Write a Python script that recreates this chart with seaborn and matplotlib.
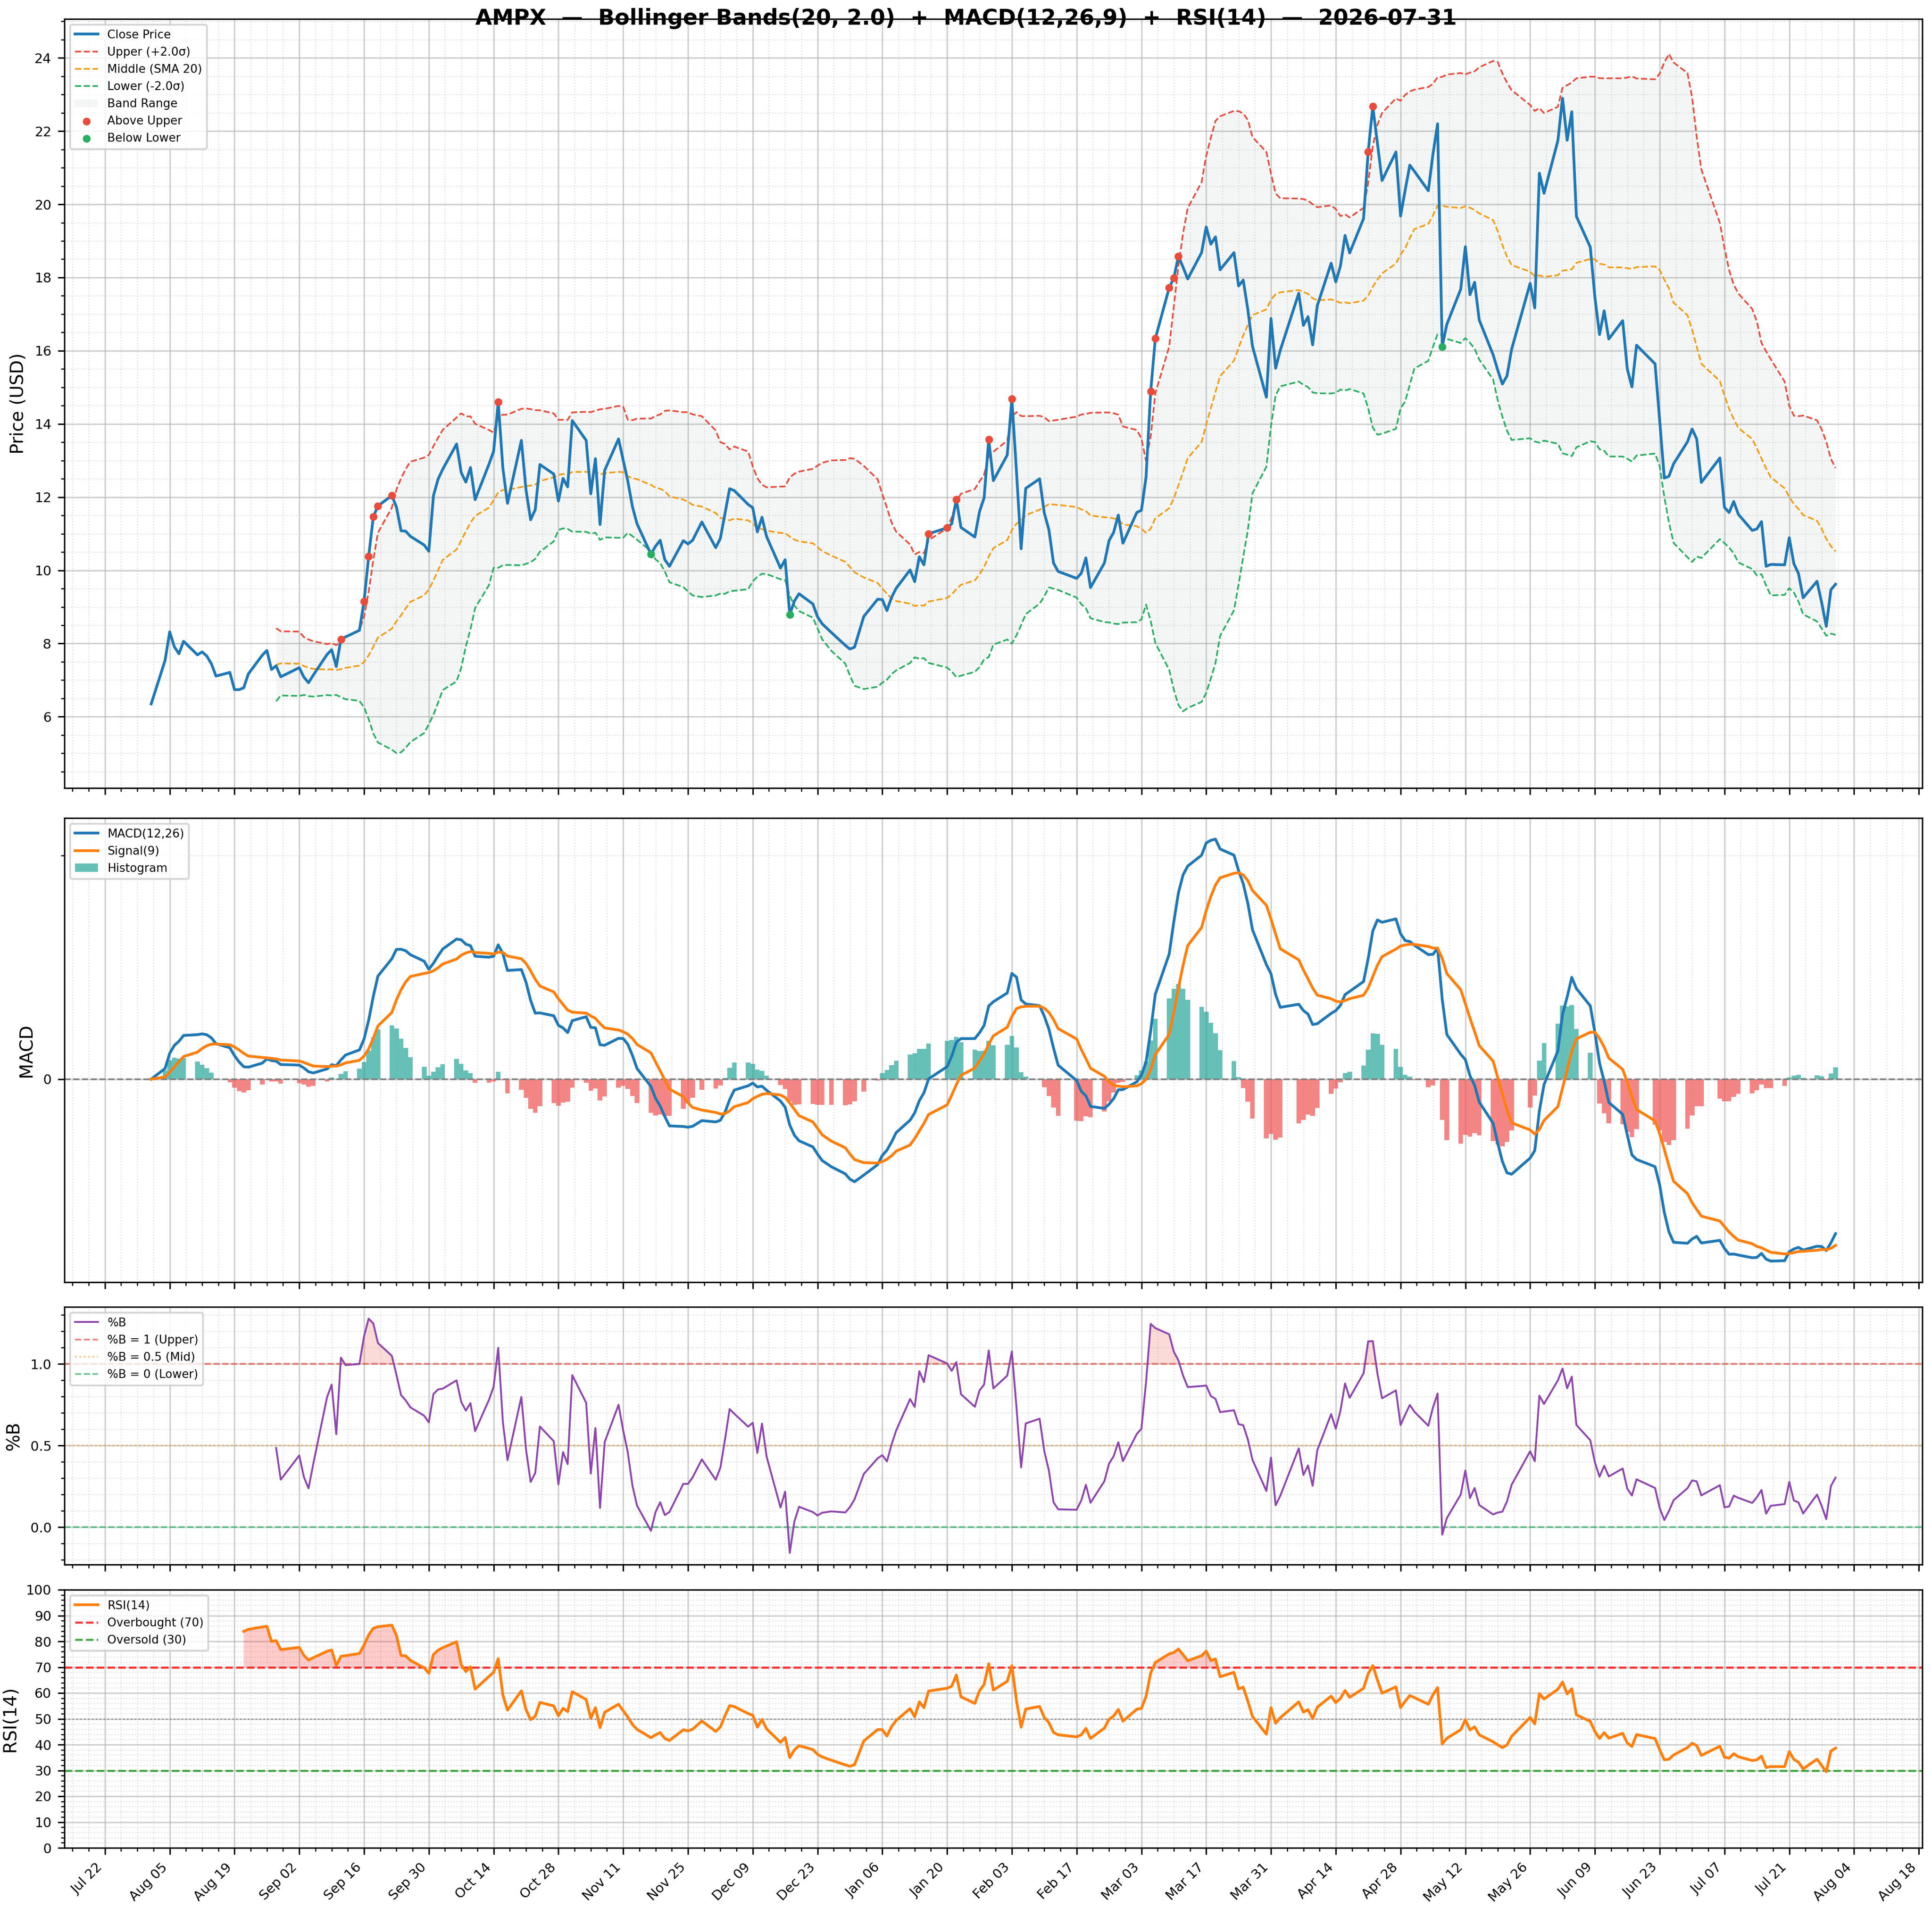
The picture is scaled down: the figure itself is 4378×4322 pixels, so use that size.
import numpy as np
import pandas as pd
import matplotlib
matplotlib.use("Agg")
import matplotlib.pyplot as plt
import matplotlib.dates as mdates
from matplotlib.ticker import AutoMinorLocator, FixedLocator, MultipleLocator
import seaborn as sns

# ---------------- data ----------------
ticker = "AMPX"
start_date = "2025-08-01"
end_date = "2026-07-31"
market_holidays = ["2025-09-01", "2025-11-27", "2025-12-25", "2026-01-01",
                   "2026-01-19", "2026-02-16", "2026-04-03", "2026-05-25",
                   "2026-06-19", "2026-07-03"]

close_aug = [6.35, 7.54, 8.32, 7.91, 7.72, 8.06, 7.69, 7.77, 7.66, 7.45, 7.11,
             7.21, 6.74, 6.74, 6.79, 7.17, 7.68, 7.81, 7.29, 7.39, 7.09]
close_sep = [7.34, 7.08, 6.93, 7.13, 7.70, 7.83, 7.37, 8.12, 8.18, 8.36, 9.15,
             10.38, 11.46, 11.76, 12.04, 11.73, 11.08, 11.07, 10.93, 10.69, 10.52]
close_oct = [12.04, 12.49, 12.76, 13.45, 12.67, 12.41, 12.81, 11.93, 12.90, 13.25,
             14.60, 12.79, 11.83, 13.55, 12.20, 11.38, 11.66, 12.89, 12.63, 11.89,
             12.51, 12.28, 14.09]
close_nov = [13.55, 12.09, 13.05, 11.25, 12.73, 13.59, 13.01, 12.44, 11.74, 11.27,
             10.44, 10.66, 10.82, 10.29, 10.11, 10.81, 10.72, 10.82, 11.32]
close_dec = [10.62, 10.87, 11.55, 12.23, 12.18, 11.80, 11.71, 11.05, 11.45, 10.92,
             10.06, 10.29, 8.79, 9.16, 9.36, 9.08, 8.73, 8.54, 8.30, 7.95, 7.85, 7.90]
close_jan = [8.74, 9.21, 9.20, 8.90, 9.26, 9.51, 10.01, 9.69, 10.37, 10.15, 11.00,
             11.16, 11.27, 11.94, 11.17, 10.91, 11.60, 11.98, 13.58, 12.45]
close_feb = [13.15, 14.68, 12.69, 10.59, 12.24, 12.50, 11.57, 11.11, 10.20, 9.97,
             9.78, 9.92, 10.34, 9.53, 10.20, 10.81, 11.04, 11.51, 10.74]
close_mar = [11.58, 11.64, 12.55, 14.89, 16.33, 17.72, 17.99, 18.58, 18.28, 17.96,
             18.68, 19.38, 18.91, 19.11, 18.21, 18.68, 17.77, 17.93, 17.12, 16.12,
             14.73, 16.88]
close_apr = [15.52, 16.01, 17.57, 16.69, 16.93, 16.16, 17.23, 18.39, 17.88, 18.31,
             19.15, 18.67, 19.61, 21.43, 22.68, 21.67, 20.65, 21.43, 19.68, 20.39, 21.07]
close_may = [20.90, 20.37, 21.37, 22.20, 16.11, 16.72, 17.68, 18.84, 17.53, 17.87,
             16.84, 15.89, 15.47, 15.09, 15.31, 16.04, 17.84, 17.17, 20.85, 20.30]
close_jun = [21.74, 22.90, 21.75, 22.53, 19.67, 18.83, 17.46, 16.44, 17.09, 16.32,
             16.82, 15.50, 15.01, 16.15, 15.64, 14.09, 12.52, 12.57, 12.91, 13.51, 13.86]
close_jul = [13.59, 12.40, 13.07, 11.72, 11.58, 11.88, 11.53, 11.09, 11.13, 11.33,
             10.11, 10.16, 10.15, 10.89, 10.18, 9.91, 9.25, 9.70, 9.12, 8.47, 9.47, 9.62]

bb_window, bb_k = 20, 2.0
macd_fast, macd_slow, macd_sig = 12, 26, 9
rsi_period = 14

dates = pd.bdate_range(start_date, end_date, freq="C", holidays=market_holidays)
close_all = (close_aug + close_sep + close_oct + close_nov + close_dec + close_jan +
             close_feb + close_mar + close_apr + close_may + close_jun + close_jul)
s = pd.Series(close_all, index=dates, dtype=float)

# indicators derived from the close series
mid = s.rolling(bb_window).mean()
sd = s.rolling(bb_window).std()
upper = mid + bb_k * sd
lower = mid - bb_k * sd
pctb = (s - lower) / (upper - lower)

ema_f = s.ewm(span=macd_fast, adjust=False).mean()
ema_s = s.ewm(span=macd_slow, adjust=False).mean()
macd = ema_f - ema_s
signal = macd.ewm(span=macd_sig, adjust=False).mean()
hist = macd - signal

delta = s.diff()
gain = delta.clip(lower=0)
loss = -delta.clip(upper=0)
avg_g = gain.ewm(alpha=1 / rsi_period, adjust=False, min_periods=rsi_period).mean()
avg_l = loss.ewm(alpha=1 / rsi_period, adjust=False, min_periods=rsi_period).mean()
rsi = 100 - 100 / (1 + avg_g / avg_l)

above = s > upper
below = s < lower

# ---------------- figure ----------------
W, H, DPI = 4378, 4322, 300
fig = plt.figure(figsize=(W / DPI, H / DPI), dpi=DPI)
fig.patch.set_facecolor("white")

def rect(top, bottom, left=146, right=4356):
    return [left / W, 1 - bottom / H, (right - left) / W, (bottom - top) / H]

ax1 = fig.add_axes(rect(43, 1786))
ax2 = fig.add_axes(rect(1854, 2906), sharex=ax1)
ax3 = fig.add_axes(rect(2962, 3546), sharex=ax1)
ax4 = fig.add_axes(rect(3603, 4188), sharex=ax1)

TICK_FS = 7.3
LEG_FS = 6.3
LAB_FS = 9.7

C_UP, C_MID, C_LO = "#e74c3c", "#f39c12", "#27ae60"

# --- price panel ---
band = ax1.fill_between(dates, lower, upper, color="#95a5a6", alpha=0.1, lw=0, label="Band Range")
sns.lineplot(x=dates, y=s.values, ax=ax1, color="#1f77b4", lw=1.5, label="Close Price", zorder=3)
sns.lineplot(x=dates, y=upper.values, ax=ax1, color=C_UP, lw=0.9, linestyle="--", label="Upper (+2.0σ)")
sns.lineplot(x=dates, y=mid.values, ax=ax1, color=C_MID, lw=0.9, linestyle="--", label="Middle (SMA 20)")
sns.lineplot(x=dates, y=lower.values, ax=ax1, color=C_LO, lw=0.9, linestyle="--", label="Lower (-2.0σ)")
sns.scatterplot(x=dates[above.values], y=s[above].values, ax=ax1, color=C_UP, s=18,
                linewidth=0, zorder=5, label="Above Upper")
sns.scatterplot(x=dates[below.values], y=s[below].values, ax=ax1, color=C_LO, s=18,
                linewidth=0, zorder=5, label="Below Lower")
h, l = ax1.get_legend_handles_labels()
order = ["Close Price", "Upper (+2.0σ)", "Middle (SMA 20)", "Lower (-2.0σ)", "Band Range",
         "Above Upper", "Below Lower"]
hd = dict(zip(l, h))
ax1.legend([hd[k] for k in order], order, loc="upper left", fontsize=LEG_FS)
ax1.set_ylabel("Price (USD)", fontsize=LAB_FS)
ax1.yaxis.set_major_locator(MultipleLocator(2))

# --- MACD panel ---
bar_colors = np.where(hist.values >= 0, "#26a69a", "#ef5350")
ax2.bar(dates, hist.values, width=1.0, color=bar_colors, alpha=0.7, label="Histogram", zorder=2)
ax2.axhline(0, color="gray", ls="--", lw=0.9, zorder=2.5)
sns.lineplot(x=dates, y=macd.values, ax=ax2, color="#1f77b4", lw=1.5, label="MACD(12,26)", zorder=3)
sns.lineplot(x=dates, y=signal.values, ax=ax2, color="#ff7f0e", lw=1.5, label="Signal(9)", zorder=3)
h, l = ax2.get_legend_handles_labels()
hd = dict(zip(l, h))
order = ["MACD(12,26)", "Signal(9)", "Histogram"]
ax2.legend([hd[k] for k in order], order, loc="upper left", fontsize=LEG_FS)
ax2.set_ylabel("MACD", fontsize=LAB_FS)

# --- %B panel ---
sns.lineplot(x=dates, y=pctb.values, ax=ax3, color="#8e44ad", lw=1.0, label="%B", zorder=3)
ax3.axhline(1.0, color=C_UP, ls="--", lw=0.9, alpha=0.7, label="%B = 1 (Upper)")
ax3.axhline(0.5, color=C_MID, ls=":", lw=0.9, alpha=0.6, label="%B = 0.5 (Mid)")
ax3.axhline(0.0, color=C_LO, ls="--", lw=0.9, alpha=0.7, label="%B = 0 (Lower)")
pb = pctb.values
ax3.fill_between(dates, pb, 1.0, where=pb > 1.0, interpolate=True, color=C_UP, alpha=0.2, lw=0)
ax3.fill_between(dates, pb, 0.0, where=pb < 0.0, interpolate=True, color=C_LO, alpha=0.2, lw=0)
h, l = ax3.get_legend_handles_labels()
hd = dict(zip(l, h))
order = ["%B", "%B = 1 (Upper)", "%B = 0.5 (Mid)", "%B = 0 (Lower)"]
ax3.legend([hd[k] for k in order], order, loc="upper left", fontsize=LEG_FS)
ax3.set_ylabel("%B", fontsize=LAB_FS)
ax3.yaxis.set_major_locator(MultipleLocator(0.5))

# --- RSI panel ---
sns.lineplot(x=dates, y=rsi.values, ax=ax4, color="#ff7f0e", lw=1.5, label="RSI(14)", zorder=3)
ax4.axhline(70, color="red", ls="--", lw=1.1, alpha=0.8, label="Overbought (70)")
ax4.axhline(30, color="#2ca02c", ls="--", lw=1.1, alpha=0.9, label="Oversold (30)")
ax4.axhline(50, color="gray", ls=":", lw=0.8, alpha=0.8)
rv = rsi.values
ax4.fill_between(dates, rv, 70, where=rv > 70, interpolate=True, color="red", alpha=0.2, lw=0)
ax4.fill_between(dates, rv, 30, where=rv < 30, interpolate=True, color="green", alpha=0.2, lw=0)
h, l = ax4.get_legend_handles_labels()
hd = dict(zip(l, h))
order = ["RSI(14)", "Overbought (70)", "Oversold (30)"]
ax4.legend([hd[k] for k in order], order, loc="upper left", fontsize=LEG_FS)
ax4.set_ylabel("RSI(14)", fontsize=LAB_FS)
ax4.set_ylim(0, 100)
ax4.yaxis.set_major_locator(MultipleLocator(10))

# --- axes styling ---
xt = pd.date_range("2025-07-22", "2026-08-18", freq="14D")
for ax in (ax1, ax2, ax3, ax4):
    ax.set_xlabel("")
    ax.xaxis.set_major_locator(FixedLocator(mdates.date2num(xt)))
    ax.xaxis.set_major_formatter(mdates.DateFormatter("%b %d"))
    ax.xaxis.set_minor_locator(AutoMinorLocator())
    if ax is not ax2:
        ax.yaxis.set_minor_locator(AutoMinorLocator())
    ax.grid(True, which="major", color="#b0b0b0", alpha=0.6, lw=0.8)
    ax.grid(True, which="minor", color="#b0b0b0", ls=":", lw=0.6, alpha=0.4)
    ax.set_axisbelow(True)
    ax.tick_params(axis="both", which="major", labelsize=TICK_FS)
    for sp in ax.spines.values():
        sp.set_color("black")

ax2.yaxis.set_major_locator(FixedLocator([0]))
ax2.yaxis.set_minor_locator(FixedLocator([2.0]))

for ax in (ax1, ax2, ax3):
    ax.tick_params(labelbottom=False)
for lab in ax4.get_xticklabels():
    lab.set_rotation(45)
    lab.set_ha("right")

fig.suptitle(f"{ticker}  —  Bollinger Bands(20, 2.0)  +  MACD(12,26,9)  +  RSI(14)  —  2026-07-31",
             fontsize=11.8, fontweight="bold", x=0.5, y=1 - 42 / H, va="center")

fig.savefig("out.png", dpi=DPI)
